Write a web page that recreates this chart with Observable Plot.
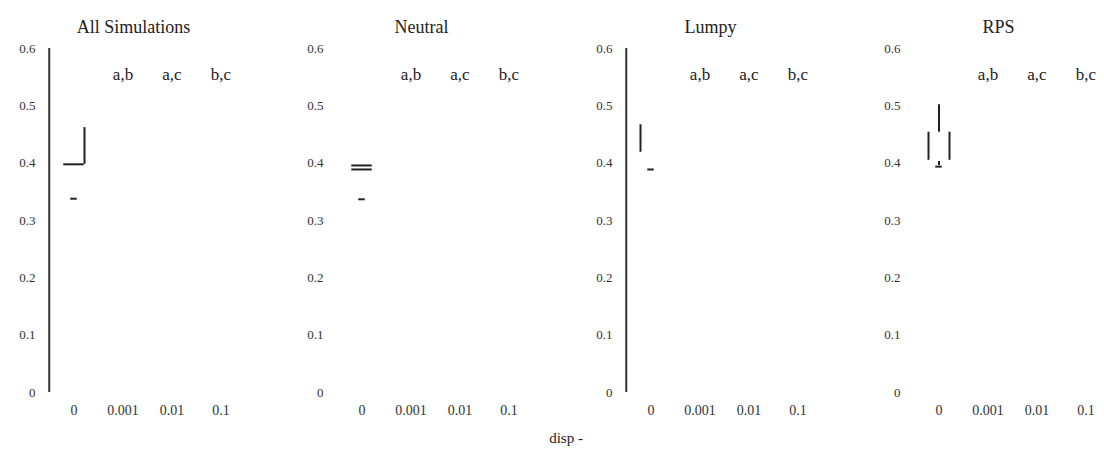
<!DOCTYPE html>
<html>
<head>
<meta charset="utf-8">
<script src="https://cdn.jsdelivr.net/npm/d3@7"></script>
<script src="https://cdn.jsdelivr.net/npm/@observablehq/plot@0.6"></script>
<style>
  body { margin: 0; background: #fff; overflow: hidden; }
  #chart { position: relative; width: 1104px; height: 459px; overflow: hidden; font-family: "Liberation Serif", "DejaVu Serif", serif; color: #222; }
  .panel { position: absolute; top: 0; }
  .panel svg { overflow: visible; max-width: none !important; }
  #xlabel { position: absolute; top: 430px; left: 566px; transform: translateX(-50%); font-size: 15px; white-space: nowrap; }
</style>
</head>
<body>
<div id="chart"></div>
<script>
// Panels (simulation type) and dispersal rates on the x axis
const panels = ["All Simulations", "Neutral", "Lumpy", "RPS"];
const rates = ["0", "0.001", "0.01", "0.1"];

// y axis ticks and their labels
const yTicks = [0, 0.1, 0.2, 0.3, 0.4, 0.5, 0.6];
const yTickLabels = ["0", "0.1", "0.2", "0.3", "0.4", "0.5", "0.6"];

// pairwise significance letters shown above each dispersal rate
const pairRates = ["0.001", "0.01", "0.1"];
const pairTexts = ["a,b", "a,c", "b,c"];
const pairTextLevel = 0.555;

// panels that draw their y axis line
const axisLinePanels = ["All Simulations", "Lumpy"];

// vertical box segments (side of the box they belong to)
const boxSides = [
  { panel: "All Simulations", rate: "0", side: "right", y1: 0.398, y2: 0.462 },
  { panel: "Lumpy", rate: "0", side: "left", y1: 0.419, y2: 0.467 },
  { panel: "RPS", rate: "0", side: "center", y1: 0.454, y2: 0.502 },
  { panel: "RPS", rate: "0", side: "left", y1: 0.405, y2: 0.454 },
  { panel: "RPS", rate: "0", side: "right", y1: 0.405, y2: 0.454 },
  { panel: "RPS", rate: "0", side: "center", y1: 0.396, y2: 0.403 }
];

// horizontal box segments: full box edges and short whisker caps
const boxEdges = [
  { panel: "All Simulations", rate: "0", kind: "edge", y: 0.398 },
  { panel: "All Simulations", rate: "0", kind: "cap", y: 0.338 },
  { panel: "Neutral", rate: "0", kind: "edge", y: 0.396 },
  { panel: "Neutral", rate: "0", kind: "edge", y: 0.389 },
  { panel: "Neutral", rate: "0", kind: "cap", y: 0.337 },
  { panel: "Lumpy", rate: "0", kind: "cap", y: 0.389 },
  { panel: "RPS", rate: "0", kind: "cap", y: 0.394 }
];

// layout
const axisX = [48, 336, 625, 913];   // left edge of each panel's frame
const marginLeft = 40;
const marginRight = 4;
const bandW = 49.5;
const boxHalf = 10.5;
const capHalf = 3.5;
const sideOffset = { left: -boxHalf, center: 0, right: boxHalf };
const ink = "#222";
const panelW = marginLeft + 4 * bandW + marginRight;

const yLabelOf = new Map(yTicks.map((t, i) => [t, yTickLabels[i]]));
const pairLabels = pairRates.map((r, i) => ({ rate: r, label: pairTexts[i] }));

const chart = document.getElementById("chart");

panels.forEach((name, p) => {
  const sides = boxSides.filter(d => d.panel === name);
  const edges = boxEdges.filter(d => d.panel === name);
  const marks = [
    Plot.axisY({ ticks: yTicks, tickFormat: d => yLabelOf.get(d), tickSize: 0, tickPadding: 13, fontSize: 13, fill: "#333", label: null }),
    Plot.axisX({ tickSize: 0, tickPadding: 13, fontSize: 14, fill: "#333", label: null }),
    // y axis line along the left edge of the frame
    Plot.ruleX(axisLinePanels.includes(name) ? [rates[0]] : [], {
      x: d => d, y1: 0, y2: 0.6, dx: -bandW / 2, stroke: "#333", strokeWidth: 2
    }),
    Plot.text([name], { frameAnchor: "top", dy: -28, dx: -14, fontSize: 18, fill: ink }),
    Plot.text(pairLabels, { x: "rate", y: () => pairTextLevel, text: "label", fontSize: 17, fill: ink }),
    Plot.tickY(edges.filter(d => d.kind === "edge"), {
      x: "rate", y: "y", insetLeft: bandW / 2 - boxHalf, insetRight: bandW / 2 - boxHalf, stroke: ink, strokeWidth: 2
    }),
    Plot.tickY(edges.filter(d => d.kind === "cap"), {
      x: "rate", y: "y", insetLeft: bandW / 2 - capHalf, insetRight: bandW / 2 - capHalf, stroke: ink, strokeWidth: 2
    })
  ];
  for (const s of ["left", "center", "right"]) {
    marks.push(Plot.ruleX(sides.filter(d => d.side === s), {
      x: "rate", y1: "y1", y2: "y2", dx: sideOffset[s], stroke: ink, strokeWidth: 2
    }));
  }
  const svg = Plot.plot({
    width: panelW,
    height: 459,
    marginLeft,
    marginRight,
    marginTop: 48,
    marginBottom: 67,
    style: { fontFamily: "Liberation Serif, serif", color: ink, background: "transparent" },
    x: { type: "band", domain: rates, padding: 0 },
    y: { domain: [0, 0.6] },
    marks
  });
  const holder = document.createElement("div");
  holder.className = "panel";
  holder.style.left = (axisX[p] - marginLeft) + "px";
  holder.style.width = panelW + "px";
  holder.appendChild(svg);
  chart.appendChild(holder);
});

const xl = document.createElement("div");
xl.id = "xlabel";
xl.textContent = "disp -";
chart.appendChild(xl);
</script>
</body>
</html>
